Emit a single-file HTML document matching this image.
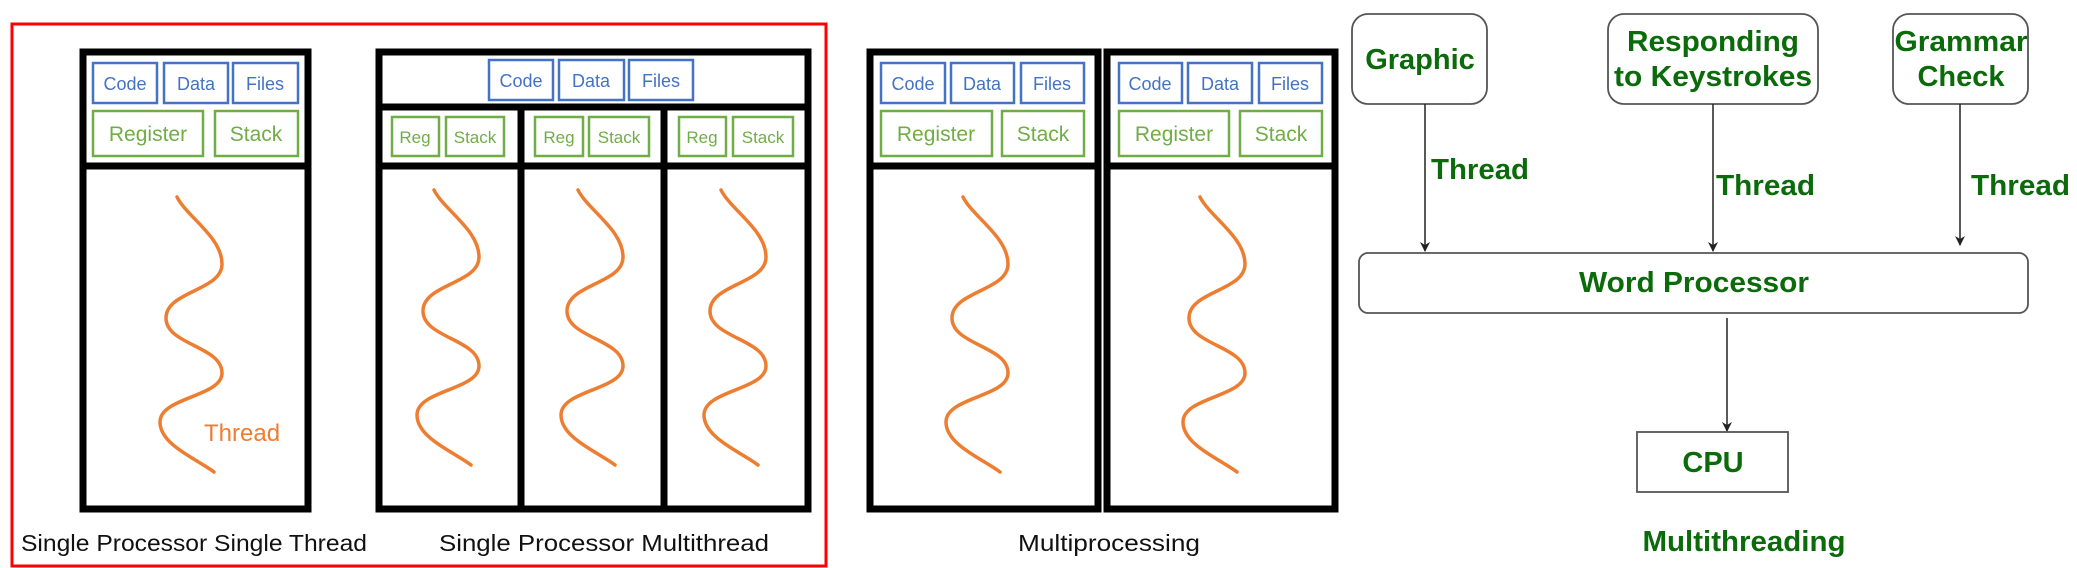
<!DOCTYPE html>
<html><head><meta charset="utf-8"><style>
html,body{margin:0;padding:0;background:#fff;}
svg{display:block}
.b{fill:none;stroke:#4472c4;stroke-width:2.5}
.g{fill:none;stroke:#70ad47;stroke-width:2.5}
.bt{fill:#4472c4;font-family:"Liberation Sans",sans-serif;font-size:18px;text-anchor:middle}
.gt{fill:#70ad47;font-family:"Liberation Sans",sans-serif;font-size:21px;text-anchor:middle}
.gs{fill:#70ad47;font-family:"Liberation Sans",sans-serif;font-size:17px;text-anchor:middle}
.k{fill:none;stroke:#000;stroke-width:7}
.th{fill:none;stroke:#ed7d31;stroke-width:3.5;stroke-linecap:round}
.lab{fill:#111;font-family:"Liberation Sans",sans-serif;font-size:23px}
.dg{fill:#0b6b0b;font-family:"Liberation Sans",sans-serif;font-weight:bold;font-size:29px;text-anchor:middle}
.gb{fill:#fff;stroke:#555;stroke-width:1.8}
.ln{stroke:#222;stroke-width:1.5}
</style></head><body>
<svg width="2077" height="568" viewBox="0 0 2077 568" xmlns="http://www.w3.org/2000/svg">
<defs>
<marker id="ar" markerWidth="10" markerHeight="10" refX="9" refY="5" orient="auto" markerUnits="userSpaceOnUse"><path d="M0,0 L10,5 L0,10 L3,5 z" fill="#222"/></marker>
<path id="wv" d="M0,0 C10,20 45,40 45,67 C45,94 -11,94 -11,121 C-11,148 45,149 45,176 C45,200 -17,200 -17,225 C-17,248 20,262 37,275"/>
</defs>
<rect x="12" y="24" width="814" height="542" fill="none" stroke="#f00" stroke-width="3"/>

<!-- Box 1 -->
<rect x="83" y="52" width="225" height="457" class="k"/>
<line x1="83" y1="166" x2="308" y2="166" class="k"/>
<rect x="93" y="63" width="64" height="40" class="b"/><text x="125" y="90" class="bt">Code</text>
<rect x="164" y="63" width="64" height="40" class="b"/><text x="196" y="90" class="bt">Data</text>
<rect x="233" y="63" width="65" height="40" class="b"/><text x="265" y="90" class="bt">Files</text>
<rect x="93" y="111" width="110" height="45" class="g"/><text x="148" y="141" class="gt">Register</text>
<rect x="215" y="111" width="83" height="45" class="g"/><text x="256" y="141" class="gt">Stack</text>
<use href="#wv" class="th" transform="translate(177,197)"/>
<text x="204" y="441" fill="#ed7d31" font-family="Liberation Sans,sans-serif" font-size="24">Thread</text>

<!-- Box 2 -->
<rect x="379" y="52" width="429" height="457" class="k"/>
<line x1="379" y1="107" x2="808" y2="107" class="k"/>
<line x1="379" y1="166" x2="808" y2="166" class="k"/>
<line x1="521" y1="107" x2="521" y2="509" class="k"/>
<line x1="664" y1="107" x2="664" y2="509" class="k"/>
<rect x="489" y="60" width="64" height="40" class="b"/><text x="521" y="87" class="bt">Code</text>
<rect x="559" y="60" width="65" height="40" class="b"/><text x="591" y="87" class="bt">Data</text>
<rect x="629" y="60" width="64" height="40" class="b"/><text x="661" y="87" class="bt">Files</text>
<rect x="392" y="117" width="47" height="39" class="g"/><text x="415" y="143" class="gs">Reg</text>
<rect x="446" y="117" width="58" height="39" class="g"/><text x="475" y="143" class="gs">Stack</text>
<rect x="535" y="117" width="48" height="39" class="g"/><text x="559" y="143" class="gs">Reg</text>
<rect x="589" y="117" width="60" height="39" class="g"/><text x="619" y="143" class="gs">Stack</text>
<rect x="679" y="117" width="47" height="39" class="g"/><text x="702" y="143" class="gs">Reg</text>
<rect x="733" y="117" width="60" height="39" class="g"/><text x="763" y="143" class="gs">Stack</text>
<use href="#wv" class="th" transform="translate(434,190)"/>
<use href="#wv" class="th" transform="translate(578,190)"/>
<use href="#wv" class="th" transform="translate(721,190)"/>

<text x="21" y="551" class="lab" textLength="346" lengthAdjust="spacingAndGlyphs">Single Processor Single Thread</text>
<text x="439" y="551" class="lab" textLength="330" lengthAdjust="spacingAndGlyphs">Single Processor Multithread</text>

<!-- Box 3 -->
<rect x="870" y="52" width="228" height="457" class="k"/>
<line x1="870" y1="166" x2="1098" y2="166" class="k"/>
<rect x="881" y="63" width="64" height="40" class="b"/><text x="913" y="90" class="bt">Code</text>
<rect x="951" y="63" width="63" height="40" class="b"/><text x="982" y="90" class="bt">Data</text>
<rect x="1021" y="63" width="63" height="40" class="b"/><text x="1052" y="90" class="bt">Files</text>
<rect x="881" y="111" width="111" height="45" class="g"/><text x="936" y="141" class="gt">Register</text>
<rect x="1002" y="111" width="82" height="45" class="g"/><text x="1043" y="141" class="gt">Stack</text>
<use href="#wv" class="th" transform="translate(963,197)"/>

<!-- Box 4 -->
<rect x="1107" y="52" width="228" height="457" class="k"/>
<line x1="1107" y1="166" x2="1335" y2="166" class="k"/>
<rect x="1119" y="63" width="63" height="40" class="b"/><text x="1150" y="90" class="bt">Code</text>
<rect x="1188" y="63" width="64" height="40" class="b"/><text x="1220" y="90" class="bt">Data</text>
<rect x="1259" y="63" width="63" height="40" class="b"/><text x="1290" y="90" class="bt">Files</text>
<rect x="1119" y="111" width="110" height="45" class="g"/><text x="1174" y="141" class="gt">Register</text>
<rect x="1240" y="111" width="82" height="45" class="g"/><text x="1281" y="141" class="gt">Stack</text>
<use href="#wv" class="th" transform="translate(1200,197)"/>

<text x="1018" y="551" class="lab" textLength="182" lengthAdjust="spacingAndGlyphs">Multiprocessing</text>

<!-- Multithreading diagram -->
<rect x="1352" y="14" width="135" height="90" rx="16" class="gb"/>
<text x="1420" y="69" class="dg">Graphic</text>
<rect x="1608" y="14" width="210" height="90" rx="16" class="gb"/>
<text x="1713" y="51" class="dg" textLength="172" lengthAdjust="spacingAndGlyphs">Responding</text>
<text x="1713" y="86" class="dg" textLength="198" lengthAdjust="spacingAndGlyphs">to Keystrokes</text>
<rect x="1893" y="14" width="135" height="90" rx="16" class="gb"/>
<text x="1961" y="51" class="dg" textLength="133" lengthAdjust="spacingAndGlyphs">Grammar</text>
<text x="1961" y="86" class="dg">Check</text>

<line x1="1425" y1="104" x2="1425" y2="251" class="ln" marker-end="url(#ar)"/>
<line x1="1713" y1="104" x2="1713" y2="251" class="ln" marker-end="url(#ar)"/>
<line x1="1960" y1="104" x2="1960" y2="245" class="ln" marker-end="url(#ar)"/>
<text x="1431" y="179" class="dg" style="text-anchor:start" textLength="98" lengthAdjust="spacingAndGlyphs">Thread</text>
<text x="1716" y="195" class="dg" style="text-anchor:start" textLength="99" lengthAdjust="spacingAndGlyphs">Thread</text>
<text x="1971" y="195" class="dg" style="text-anchor:start" textLength="99" lengthAdjust="spacingAndGlyphs">Thread</text>

<rect x="1359" y="253" width="669" height="60" rx="9" class="gb"/>
<text x="1694" y="292" class="dg" textLength="230" lengthAdjust="spacingAndGlyphs">Word Processor</text>

<line x1="1727" y1="318" x2="1727" y2="431" class="ln" marker-end="url(#ar)"/>
<rect x="1637" y="432" width="151" height="60" class="gb"/>
<text x="1713" y="472" class="dg">CPU</text>

<text x="1744" y="551" class="dg" textLength="203" lengthAdjust="spacingAndGlyphs">Multithreading</text>
</svg>
</body></html>
